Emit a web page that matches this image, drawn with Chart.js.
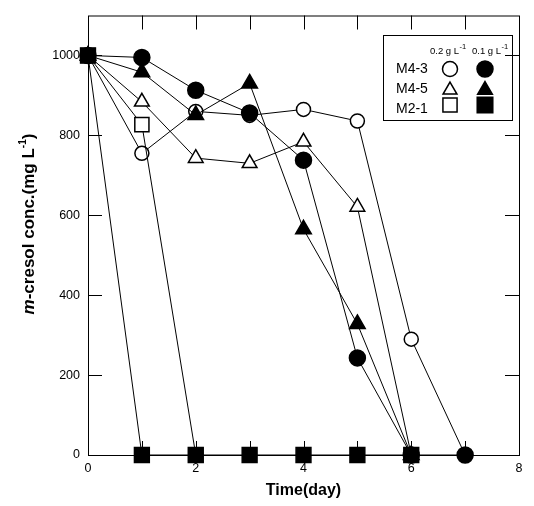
<!DOCTYPE html>
<html><head><meta charset="utf-8">
<script src="https://cdn.jsdelivr.net/npm/chart.js@4/dist/chart.umd.min.js"></script>
<style>html,body{margin:0;padding:0;background:#fff}#wrap{width:534px;height:506px;position:relative}</style>
</head><body><div id="wrap"><canvas id="c" width="534" height="506"></canvas></div>
<script>
const days = [0,1,2,3,4,5,6,7];
const m43_02 = [1000,755,860,850,865,836,290,0];
const m43_01 = [1000,995,913,856,738,243,0,0];
const m45_02 = [1000,884,743,730,784,621,0];
const m45_01 = [1000,958,851,930,565,328,0];
const m21_02 = [1000,827,0];
const m21_01 = [1000,0,0,0,0,0,0];
const xTickLabels = [0,2,4,6,8];
const yTickLabels = [0,200,400,600,800,1000];
const xMarks = [1,2,3,4,5,6,7];
const yMarks = [200,400,600,800,1000];
const legendRows = ['M4-3','M4-5','M2-1'];
const legendCols = ['0.2 g L','0.1 g L'];
const FONT = '"Liberation Sans", Arial, sans-serif';

function mk(label, data, style, filled, r){
  return {
    label, data: data.map((v,i)=>({x:days[i], y:v})),
    borderColor:'#000', borderWidth:1, pointStyle:style, pointRadius:r, pointHoverRadius:r,
    pointBackgroundColor: filled?'#000':'#fff', pointBorderColor:'#000', pointBorderWidth:1.5,
    tension:0, clip:false, fill:false
  };
}
const datasets = [
  mk('M2-1 0.1', m21_01, 'rect', true, 10.5),
  mk('M4-3 0.1', m43_01, 'circle', true, 8),
  mk('M4-5 0.1', m45_01, 'triangle', true, 9),
  mk('M2-1 0.2', m21_02, 'rect', false, 10),
  mk('M4-3 0.2', m43_02, 'circle', false, 7),
  mk('M4-5 0.2', m45_02, 'triangle', false, 8.5)
];

function pt(ctx, style, filled, r, x, y){
  ctx.save();
  ctx.fillStyle = filled?'#000':'#fff'; ctx.strokeStyle='#000'; ctx.lineWidth=1.5;
  if (Chart.helpers && Chart.helpers.drawPoint){
    Chart.helpers.drawPoint(ctx,{pointStyle:style,radius:r,borderWidth:1.5,rotation:0},x,y);
  }
  ctx.restore();
}

const framePlugin = {
  id:'frame',
  beforeDatasetsDraw(chart){
    const {ctx, chartArea:a, scales:{x,y}} = chart;
    ctx.save();
    ctx.strokeStyle='#000'; ctx.lineWidth=1;
    ctx.strokeRect(a.left+0.5, a.top+0.5, a.right-a.left, a.bottom-a.top);
    const L=14;
    ctx.beginPath();
    xMarks.forEach(v=>{ const px=Math.round(x.getPixelForValue(v))+0.5;
      ctx.moveTo(px,a.top); ctx.lineTo(px,a.top+L);
      ctx.moveTo(px,a.bottom); ctx.lineTo(px,a.bottom-L); });
    yMarks.forEach(v=>{ const py=Math.round(y.getPixelForValue(v))+0.5;
      ctx.moveTo(a.left,py); ctx.lineTo(a.left+L,py);
      ctx.moveTo(a.right,py); ctx.lineTo(a.right-L,py); });
    ctx.stroke();
    ctx.restore();
  },
  afterDraw(chart){
    const ctx = chart.ctx;
    ctx.save();
    // y title
    ctx.translate(29, 224);
    ctx.rotate(-Math.PI/2);
    ctx.fillStyle='#000';
    ctx.textBaseline='middle';
    const parts = [
      {t:'m', f:'italic bold 17px '+FONT, dy:0},
      {t:'-cresol conc.(mg L', f:'bold 17px '+FONT, dy:0},
      {t:'-1', f:'bold 10px '+FONT, dy:-6},
      {t:')', f:'bold 17px '+FONT, dy:0}
    ];
    let w=0; parts.forEach(p=>{ctx.font=p.f; p.w=ctx.measureText(p.t).width; w+=p.w;});
    let cx=-w/2;
    parts.forEach(p=>{ctx.font=p.f; ctx.fillText(p.t,cx,p.dy); cx+=p.w;});
    ctx.restore();

    // legend
    ctx.save();
    ctx.strokeStyle='#000'; ctx.lineWidth=1;
    ctx.strokeRect(383.5,35.5,129,85);
    ctx.fillStyle='#000'; ctx.textBaseline='alphabetic';
    const hx=[430,472];
    legendCols.forEach((t,i)=>{
      ctx.font='9.5px '+FONT; ctx.fillText(t,hx[i],54);
      const tw=ctx.measureText(t).width;
      ctx.font='7.5px '+FONT; ctx.fillText('-1',hx[i]+tw+0.5,49);
    });
    const rowY=[69,90,105];
    const styles=['circle','triangle','rect'];
    const rad=[[7.5,8],[8,8.5],[10,11]];
    const base=[73,93,113];
    legendRows.forEach((t,i)=>{
      ctx.font='14px '+FONT; ctx.fillStyle='#000'; ctx.fillText(t,396,base[i]);
      pt(ctx,styles[i],false,rad[i][0],450,rowY[i]);
      pt(ctx,styles[i],true,rad[i][1],485,rowY[i]);
    });
    ctx.restore();
  }
};

new Chart(document.getElementById('c'),{
  type:'line',
  data:{datasets},
  options:{
    responsive:false, animation:false, devicePixelRatio:1,
    layout:{padding:{top:9,right:15,left:0,bottom:0}},
    plugins:{legend:{display:false}, tooltip:{enabled:false}},
    events:[],
    scales:{
      x:{type:'linear', min:0, max:8,
        afterBuildTicks:s=>{s.ticks=xTickLabels.map(v=>({value:v}));},
        afterFit:s=>{s.height=51;},
        grid:{display:false, drawTicks:false}, border:{display:false},
        ticks:{color:'#000', font:{family:FONT,size:12.5}, padding:6, maxRotation:0, autoSkip:false, callback:v=>String(v)},
        title:{display:true, text:'Time(day)', color:'#000', font:{family:FONT,size:16,weight:'bold'}, padding:{top:0,bottom:6}}
      },
      y:{type:'linear', min:0, max:1100,
        afterBuildTicks:s=>{s.ticks=yTickLabels.map(v=>({value:v}));},
        afterFit:s=>{s.width=88;},
        grid:{display:false, drawTicks:false}, border:{display:false},
        ticks:{color:'#000', font:{family:FONT,size:12.5}, padding:8, autoSkip:false, callback:v=>String(v)}
      }
    }
  },
  plugins:[framePlugin]
});
</script></body></html>
